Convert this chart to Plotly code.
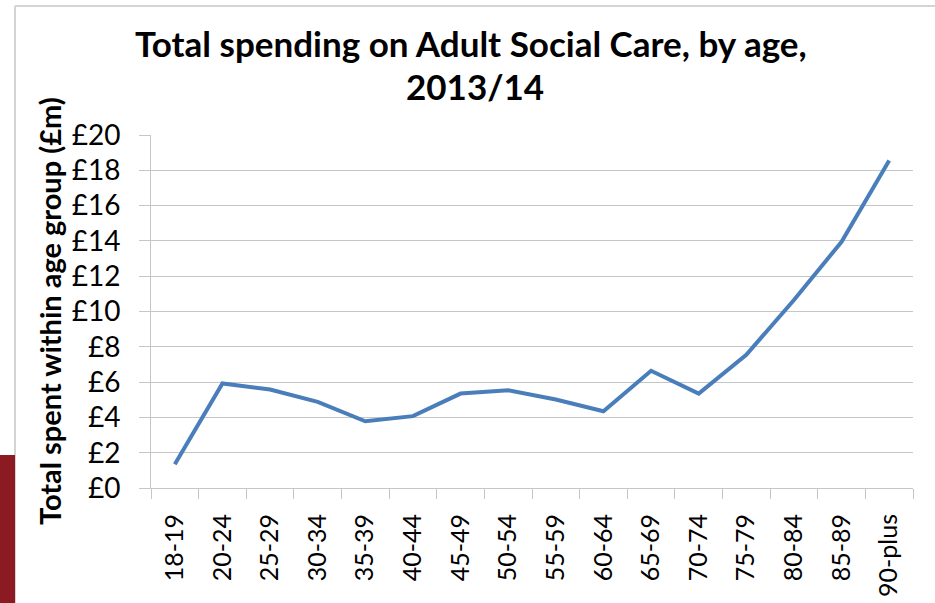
import plotly.graph_objects as go

# Spending by age band, £m
age_groups = ["18-19", "20-24", "25-29", "30-34", "35-39", "40-44", "45-49", "50-54",
              "55-59", "60-64", "65-69", "70-74", "75-79", "80-84", "85-89", "90-plus"]
spending = [1.35, 5.92, 5.58, 4.88, 3.78, 4.07, 5.35, 5.54,
            5.01, 4.35, 6.64, 5.35, 7.55, 10.65, 13.95, 18.55]
y_ticks = [0, 2, 4, 6, 8, 10, 12, 14, 16, 18, 20]
y_labels = [f"£{v}" for v in y_ticks]

title_lines = ["Total spending on Adult Social Care, by age,", "2013/14"]
y_title = "Total spent within age group (£m)"

FONT = "Lato, 'Open Sans', sans-serif"
GRID = "#c6c6c6"
CLEAR = "rgba(0,0,0,0)"

# plot area in pixels: left 151, right 913, top 135, bottom 488
PW, PH = 762, 353


def px_x(x):
    return (x - 151) / PW


def px_y(y):
    return (488 - y) / PH


fig = go.Figure()
fig.add_trace(go.Scatter(
    x=age_groups, y=spending, mode="lines",
    line=dict(color="#4a7ebb", width=4),
    hoverinfo="x+y", showlegend=False,
))
# transparent copy on the overlay axes that carry the tick labels
fig.add_trace(go.Scatter(
    x=age_groups, y=spending, mode="lines", xaxis="x2", yaxis="y2",
    line=dict(color=CLEAR, width=0), hoverinfo="skip", showlegend=False,
))

annotations = [
    dict(text=f"<b>{title_lines[0]}</b>", x=px_x(471), y=px_y(43)),
    dict(text=f"<b>{title_lines[1]}</b>", x=px_x(475), y=px_y(86)),
]
for a in annotations:
    a.update(xref="paper", yref="paper", xanchor="center", yanchor="middle",
             showarrow=False, font=dict(size=35, family=FONT, color="black"))
annotations.append(dict(
    text=f"<b>{y_title}</b>", x=px_x(49), y=px_y(311), xref="paper", yref="paper",
    xanchor="center", yanchor="middle", textangle=-90, showarrow=False,
    font=dict(size=29, family=FONT, color="black"),
))

x_range = [-0.5, len(age_groups) - 0.5]

fig.update_layout(
    width=935, height=603,
    margin=dict(l=151, r=22, t=135, b=115, pad=0),
    paper_bgcolor="white", plot_bgcolor="white",
    font=dict(family=FONT, color="black"),
    # axes with the visible lines, short ticks and gridlines
    xaxis=dict(
        type="category", categoryorder="array", categoryarray=age_groups,
        tickson="boundaries", ticks="outside", ticklen=10,
        tickcolor=GRID, tickwidth=1, showline=True, linecolor=GRID, linewidth=1,
        showgrid=False, showticklabels=False, range=x_range, automargin=False,
    ),
    yaxis=dict(
        range=[0, 20], tickvals=y_ticks,
        ticks="outside", ticklen=11, tickcolor=GRID, tickwidth=1,
        showline=True, linecolor=GRID, linewidth=1,
        showgrid=True, gridcolor=GRID, gridwidth=1, zeroline=False,
        showticklabels=False, automargin=False,
    ),
    # overlay axes holding the tick labels, set further off the plot
    xaxis2=dict(
        type="category", categoryorder="array", categoryarray=age_groups,
        overlaying="x", anchor="y2", side="bottom",
        ticks="outside", ticklen=15, tickcolor=CLEAR, showline=False,
        showgrid=False, tickangle=-90, tickfont=dict(size=25, family=FONT),
        range=x_range, automargin=False,
    ),
    yaxis2=dict(
        overlaying="y", anchor="x2", side="left",
        range=[0, 20], tickvals=y_ticks, ticktext=y_labels,
        ticks="outside", ticklen=24, tickcolor=CLEAR, showline=False,
        showgrid=False, zeroline=False,
        tickfont=dict(size=28, family=FONT), automargin=False,
    ),
    annotations=annotations,
    shapes=[
        # slide frame
        dict(type="line", xref="paper", yref="paper", x0=px_x(15), x1=px_x(935),
             y0=px_y(6), y1=px_y(6), line=dict(color="#d4d4d4", width=2)),
        dict(type="line", xref="paper", yref="paper", x0=px_x(15), x1=px_x(15),
             y0=px_y(6), y1=px_y(603), line=dict(color="#d4d4d4", width=2)),
        # accent bar at the left edge
        dict(type="rect", xref="paper", yref="paper", x0=px_x(-2), x1=px_x(15),
             y0=px_y(455), y1=px_y(606), fillcolor="#8c1a22", line=dict(width=0)),
    ],
)

fig.write_html("out.html")
